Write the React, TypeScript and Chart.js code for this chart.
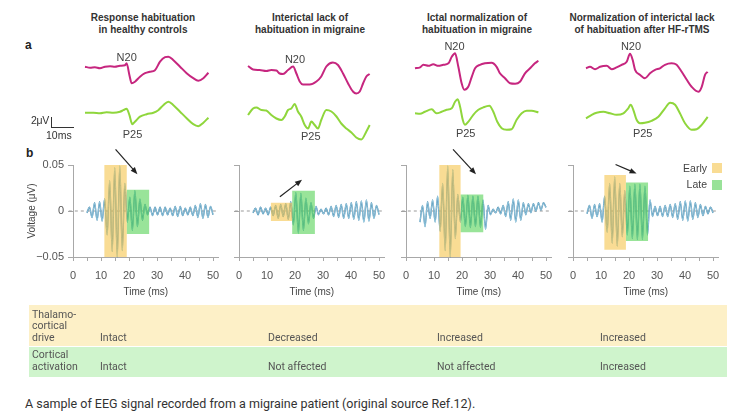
import React, { useEffect, useRef } from 'react';
import { Chart, registerables } from 'chart.js';

Chart.register(...registerables);

const SANS = '"Liberation Sans", Arial, Helvetica, sans-serif';
const ROBOTO = 'Roboto, "Liberation Sans", Arial, sans-serif';
Chart.defaults.font.family = SANS;

// ---------------- text ----------------
const panelTitles = [
  ['Response habituation', 'in healthy controls'],
  ['Interictal lack of', 'habituation in migraine'],
  ['Ictal normalization of', 'habituation in migraine'],
  ['Normalization of interictal lack', 'of habituation after HF-rTMS'],
];
const n20Label = 'N20';
const p25Label = 'P25';
const legendLabels = ['Early', 'Late'];
const thalamoLabel = ['Thalamo-', 'cortical', 'drive'];
const corticalLabel = ['Cortical', 'activation'];
const thalamoValues = ['Intact', 'Decreased', 'Increased', 'Increased'];
const corticalValues = ['Intact', 'Not affected', 'Not affected', 'Increased'];
const caption = 'A sample of EEG signal recorded from a migraine patient (original source Ref.12).';

// ---------------- panel a: evoked potentials (ms, μV) ----------------
const n20Time1 = [0, 2.3, 4.5, 6.8, 9.1, 11.4, 13.6, 15.9, 18.2, 18.9, 20.2, 21.2, 22.7, 25.0, 27.3, 29.5, 31.8, 34.1, 36.4, 37.9, 40.2, 43.2, 46.2, 49.2, 51.5, 53.8, 56.1];
const n20Volt1 = [0, -0.2, -0.1, -0.3, 0, 0.1, 0, 0.2, 0.3, 0.7, -1.7, -3.3, -3.0, -2.0, -1.3, -1.0, -0.7, 1.0, 1.9, 2.0, 1.3, 0, -1.3, -2.3, -2.8, -2.3, -1.2];
const p25Time1 = [0, 3.8, 6.8, 9.8, 12.9, 15.9, 17.4, 18.9, 20.2, 21.5, 22.7, 25.0, 28.0, 31.1, 33.3, 35.6, 37.9, 40.2, 43.2, 46.2, 49.2, 51.5, 53.8, 56.1];
const p25Volt1 = [0, 0, -0.1, 0.1, 0, 0.2, 0.5, 0.8, -0.5, -2.3, -1.8, -0.8, -0.3, 0, 0.5, 1.5, 2.2, 1.5, 0.2, -1.1, -2.3, -2.7, -2.0, -1.0];

const n20Time2 = [0, 2.3, 5.3, 8.3, 10.6, 12.9, 14.4, 15.9, 18.2, 20.5, 22.0, 23.5, 25.0, 28.0, 31.1, 33.3, 35.6, 38.6, 40.9, 43.2, 45.5, 47.7, 49.2, 50.8, 52.3, 53.8, 55.3];
const n20Volt2 = [0, -0.7, -0.8, -1.0, -0.8, -0.9, -1.5, -1.6, -0.8, -0.1, -1.5, -3.1, -3.7, -3.7, -3.1, -2.1, -0.1, 0.7, 0.2, -1.5, -3.5, -5.1, -5.5, -5.1, -3.5, -2.1, -1.6];
const p25Time2 = [0, 2.3, 3.8, 6.1, 8.3, 10.6, 12.9, 15.2, 16.7, 18.2, 19.7, 21.2, 22.7, 24.2, 25.8, 27.3, 28.8, 30.3, 31.8, 33.3, 35.6, 37.9, 40.2, 42.4, 44.7, 47.0, 49.2, 51.5, 53.8, 55.3];
const p25Volt2 = [0, 1.3, 1.5, 1.0, 0.9, 0, -0.7, -1.0, -0.3, 1.0, 1.3, 2.2, 0.7, -0.3, -2.0, -2.7, -1.3, -2.0, -2.7, -1.0, 1.0, 0.7, -0.3, -1.7, -2.7, -3.5, -4.5, -4.9, -3.3, -2.0];

const n20Time3 = [0, 2.3, 3.8, 6.1, 8.3, 10.6, 12.9, 15.2, 16.7, 18.2, 19.7, 21.2, 22.4, 24.2, 25.8, 27.3, 29.5, 31.8, 34.8, 37.1, 38.6, 40.9, 43.2, 45.5, 47.7, 50.0, 52.3, 54.5, 56.1];
const n20Volt3 = [0, 0.2, 0.7, 0.5, 0.8, 0.5, 0.7, 1.0, 2.3, 3.0, 0.3, -3.0, -4.3, -3.7, -1.7, 0, 0.7, 1.0, 1.1, 0.3, -1.0, -2.0, -3.0, -3.1, -2.7, -1.0, 0, 1.0, 1.5];
const p25Time3 = [0, 2.3, 4.5, 7.6, 9.8, 12.1, 14.4, 16.7, 18.2, 19.4, 20.5, 21.7, 22.7, 24.2, 26.5, 28.8, 31.1, 33.8, 35.6, 37.4, 39.4, 41.7, 43.9, 46.2, 48.5, 50.8, 53.0, 56.1];
const p25Volt3 = [0, -0.1, 0.3, 0.8, 0, 0.3, 0.7, 1.0, 2.3, 2.8, 1.3, -1.3, -2.3, -1.7, -0.3, 0.7, 1.2, 1.5, 0.3, -1.7, -3.0, -3.3, -3.2, -1.3, 0, 0.5, 0.5, 0.2];

const n20Time4 = [0, 1.8, 4.1, 6.4, 9.4, 11.7, 13.9, 16.2, 18.5, 20.0, 21.2, 22.3, 24.5, 26.8, 29.1, 31.4, 33.6, 35.9, 38.9, 41.2, 43.5, 45.8, 48.0, 51.1, 52.6, 54.1, 55.3];
const n20Volt4 = [0, 0.3, -0.2, 0.3, 0.5, -0.2, 0.2, 0.7, 1.3, 2.9, 1.7, -0.3, -1.3, -2.0, -1.0, -0.3, 0, 0.7, 1.0, 0.7, -0.7, -2.3, -3.7, -4.7, -3.7, -1.3, -0.7];
const p25Time4 = [0, 2.6, 4.8, 7.9, 10.9, 13.9, 17.0, 19.2, 20.3, 21.5, 23.0, 24.5, 26.8, 29.8, 32.9, 35.9, 38.2, 40.5, 42.7, 45.0, 48.0, 50.3, 52.6, 55.3];
const p25Volt4 = [0, 0.7, 1.1, 1.3, 1.0, 0.7, 1.0, 2.0, 2.7, 1.7, -0.3, -1.0, -0.9, -0.5, 0.3, 2.0, 3.1, 2.7, 1.0, -1.0, -2.3, -2.2, -1.3, 0.3];

const n20Times = [n20Time1, n20Time2, n20Time3, n20Time4];
const n20Volts = [n20Volt1, n20Volt2, n20Volt3, n20Volt4];
const p25Times = [p25Time1, p25Time2, p25Time3, p25Time4];
const p25Volts = [p25Volt1, p25Volt2, p25Volt3, p25Volt4];

// ---------------- panel b: high-frequency oscillations (ms, μV) ----------------
const timeB = [
  5.0, 5.9, 6.8, 7.7, 8.6, 9.5, 10.4, 11.3, 12.2, 13.1,
  14.0, 14.9, 15.8, 16.7, 17.6, 18.5, 19.4, 20.3, 21.2, 22.1,
  23.0, 23.9, 24.8, 25.7, 26.6, 27.5, 28.4, 29.3, 30.2, 31.1,
  32.0, 32.9, 33.8, 34.7, 35.6, 36.5, 37.4, 38.3, 39.2, 40.1,
  41.0, 41.9, 42.8, 43.7, 44.6, 45.5, 46.4, 47.3, 48.2, 49.1,
  50.0,
];
const voltB1 = [
  -0.002, 0.004, -0.007, 0.009, -0.010, 0.010, -0.011, 0.013, -0.026, 0.033,
  -0.044, 0.047, -0.050, 0.049, -0.043, 0.030, -0.012, 0.015, -0.021, 0.022,
  -0.017, 0.013, -0.010, 0.007, -0.004, 0.004, -0.005, 0.004, -0.004, 0.004,
  -0.005, 0.004, -0.004, 0.003, -0.005, 0.005, -0.006, 0.005, -0.005, 0.003,
  -0.004, 0.004, -0.005, 0.006, -0.007, 0.008, -0.008, 0.007, -0.007, 0.005,
  -0.004,
];
const voltB2 = [
  -0.002, 0.003, -0.004, 0.004, -0.003, 0.003, -0.004, 0.004, -0.005, 0.006,
  -0.008, 0.007, -0.006, 0.008, -0.009, 0.010, -0.015, 0.020, -0.024, 0.019,
  -0.021, 0.014, -0.014, 0.009, -0.008, 0.005, -0.004, 0.002, -0.003, 0.003,
  -0.004, 0.005, -0.006, 0.006, -0.007, 0.007, -0.008, 0.008, -0.008, 0.009,
  -0.009, 0.010, -0.010, 0.011, -0.012, 0.012, -0.011, 0.009, -0.008, 0.006,
  -0.004,
];
const voltB3 = [
  -0.012, 0.006, -0.017, 0.010, -0.008, 0.012, -0.012, 0.016, -0.022, 0.030,
  -0.043, 0.049, -0.050, 0.045, -0.030, 0.018, -0.012, 0.015, -0.017, 0.017,
  -0.018, 0.016, -0.017, 0.016, -0.018, 0.012, -0.020, 0.006, -0.004, 0.002,
  -0.002, 0.004, -0.003, 0.006, -0.006, 0.010, -0.010, 0.013, -0.012, 0.012,
  -0.010, 0.009, -0.004, 0.008, -0.002, 0.008, 0.000, 0.009, 0.001, 0.009,
  0.004,
];
const voltB4 = [
  -0.003, 0.006, -0.008, 0.007, -0.006, 0.008, -0.012, 0.016, -0.023, 0.030,
  -0.035, 0.037, -0.038, 0.030, -0.028, 0.022, -0.026, 0.027, -0.030, 0.029,
  -0.031, 0.029, -0.031, 0.027, -0.026, 0.012, -0.006, 0.005, -0.005, 0.005,
  -0.006, 0.006, -0.006, 0.007, -0.007, 0.008, -0.009, 0.010, -0.010, 0.011,
  -0.011, 0.011, -0.009, 0.009, -0.007, 0.007, -0.005, 0.005, -0.003, 0.004,
  -0.002,
];
const voltsB = [voltB1, voltB2, voltB3, voltB4];

const earlyStart = [11.2, 11.4, 11.9, 11.2];
const earlyEnd = [19.2, 19.0, 19.5, 18.9];
const earlyTop = [0.05, 0.009, 0.05, 0.039];
const earlyBottom = [-0.05, -0.011, -0.05, -0.042];
const lateStart = [19.2, 19.0, 19.5, 18.9];
const lateEnd = [27.2, 27.1, 27.6, 26.8];
const lateTop = [0.023, 0.022, 0.018, 0.031];
const lateBottom = [-0.025, -0.025, -0.023, -0.0325];

const arrowFromTime = [15.2, 14.6, 16.8, 15.2];
const arrowFromVolt = [0.067, 0.0154, 0.067, 0.0506];
const arrowToTime = [23.0, 22.5, 25.0, 22.7];
const arrowToVolt = [0.04, 0.034, 0.04, 0.0407];

const xTickValues = [0, 5, 10, 15, 20, 25, 30, 35, 40, 45, 50];
const xTickLabels = ['0', '', '10', '', '20', '', '30', '', '40', '', '50'];
const yTickValues = [-0.05, 0, 0.05];
const yTickLabels = ['\u22120.05', '0', '0.05'];

// ---------------- styles / layout ----------------
const MAGENTA = '#c6267f';
const LIME = '#8fd63c';
const EARLY_FILL = 'rgba(244,192,60,0.55)';
const LATE_FILL = 'rgba(70,205,70,0.55)';
const EARLY_SWATCH = '#f9dc94';
const LATE_SWATCH = '#99e299';
const AXIS_GRAY = '#a8a8a8';

const TITLE_CX = [143, 310, 477, 642];
const N20_POS = [[126.7, 57.5], [295, 59.2], [454.5, 46], [631, 46]];
const P25_POS = [[132.5, 134], [310.8, 136.5], [465.7, 133.8], [642.7, 133.8]];

const A_START_X = [85, 248.3, 415, 586];
const A_BASE_N = [66.7, 66, 68.3, 68.3];
const A_BASE_P = [112.7, 115, 113.3, 118.3];
const A_PX_MS = 2.2;
const A_PX_UV = 5;
const A_TOP = 44;
const A_H = 100;
const A_W = 132;
const A_PAD_L = 4;

const B_X0 = [72.5, 239, 406, 573.3];
const B_PX_MS = 2.8;
const B_XMAX = 52;
const B_TOP = 145;
const B_H = 157;
const B_W = 208;
const B_YW = 50;
const B_PADTOP = 20;
const B_XH = 45;

const TABLE_VALUE_X = [100, 268, 437, 600];

// ---------------- plugins ----------------
const arrowPlugin = {
  id: 'arrow',
  afterDatasetsDraw(chart: any, _args: any, opts: any) {
    if (!opts || !opts.from) return;
    const { ctx, scales } = chart;
    const x1 = scales.x.getPixelForValue(opts.from[0]);
    const y1 = scales.y.getPixelForValue(opts.from[1]);
    const x2 = scales.x.getPixelForValue(opts.to[0]);
    const y2 = scales.y.getPixelForValue(opts.to[1]);
    const ang = Math.atan2(y2 - y1, x2 - x1);
    const head = 7;
    const half = 2.8;
    const bx = x2 - head * Math.cos(ang);
    const by = y2 - head * Math.sin(ang);
    ctx.save();
    ctx.strokeStyle = '#222';
    ctx.fillStyle = '#222';
    ctx.lineWidth = 1.2;
    ctx.beginPath();
    ctx.moveTo(x1, y1);
    ctx.lineTo(bx + 1 * Math.cos(ang), by + 1 * Math.sin(ang));
    ctx.stroke();
    ctx.beginPath();
    ctx.moveTo(x2, y2);
    ctx.lineTo(bx + half * Math.sin(ang), by - half * Math.cos(ang));
    ctx.lineTo(bx - half * Math.sin(ang), by + half * Math.cos(ang));
    ctx.closePath();
    ctx.fill();
    ctx.restore();
  },
};

// ---------------- components ----------------
function PanelA({ c }: { c: number }) {
  const ref = useRef<HTMLCanvasElement>(null);
  useEffect(() => {
    const xMin = -A_PAD_L / A_PX_MS;
    const xMax = xMin + A_W / A_PX_MS;
    const nMax = (A_BASE_N[c] - A_TOP) / A_PX_UV;
    const nMin = nMax - A_H / A_PX_UV;
    const pMax = (A_BASE_P[c] - A_TOP) / A_PX_UV;
    const pMin = pMax - A_H / A_PX_UV;
    const nData = n20Times[c].map((t, k) => ({ x: t, y: n20Volts[c][k] }));
    const pData = p25Times[c].map((t, k) => ({ x: t, y: p25Volts[c][k] }));
    const chart = new Chart(ref.current as HTMLCanvasElement, {
      type: 'line',
      data: {
        datasets: [
          { data: nData, yAxisID: 'yN', borderColor: MAGENTA, borderWidth: 2, pointRadius: 0, fill: false, cubicInterpolationMode: 'monotone', clip: false },
          { data: pData, yAxisID: 'yP', borderColor: LIME, borderWidth: 2, pointRadius: 0, fill: false, cubicInterpolationMode: 'monotone', clip: false },
        ],
      } as any,
      options: {
        animation: false,
        responsive: false,
        events: [],
        layout: { padding: 0 },
        plugins: { legend: { display: false }, tooltip: { enabled: false } },
        scales: {
          x: { type: 'linear', display: false, min: xMin, max: xMax },
          yN: { type: 'linear', display: false, min: nMin, max: nMax },
          yP: { type: 'linear', display: false, min: pMin, max: pMax },
        },
      } as any,
    });
    return () => chart.destroy();
  }, [c]);
  return (
    <canvas
      ref={ref}
      width={A_W}
      height={A_H}
      style={{ position: 'absolute', left: A_START_X[c] - A_PAD_L, top: A_TOP, width: A_W, height: A_H }}
    />
  );
}

function PanelB({ i }: { i: number }) {
  const ref = useRef<HTMLCanvasElement>(null);
  useEffect(() => {
    const volts = voltsB[i];
    const traceDark = timeB.map((t, k) => ({ x: t, y: volts[k] }));
    const traceLight = timeB.map((t, k) => ({ x: t, y: volts[k] }));
    const rect = (s: number, e: number, b: number, t: number) => [
      { x: s, y: b }, { x: s, y: t }, { x: e, y: t }, { x: e, y: b }, { x: s, y: b },
    ];
    const showY = i === 0;
    const chart = new Chart(ref.current as HTMLCanvasElement, {
      type: 'line',
      data: {
        datasets: [
          { data: rect(earlyStart[i], earlyEnd[i], earlyBottom[i], earlyTop[i]), fill: 'shape', backgroundColor: EARLY_FILL, borderColor: 'rgba(0,0,0,0)', borderWidth: 0, pointRadius: 0, tension: 0, order: 0 },
          { data: rect(lateStart[i], lateEnd[i], lateBottom[i], lateTop[i]), fill: 'shape', backgroundColor: LATE_FILL, borderColor: 'rgba(0,0,0,0)', borderWidth: 0, pointRadius: 0, tension: 0, order: 1 },
          { data: traceLight, borderColor: '#b8e2f2', borderWidth: 0.7, pointRadius: 0, fill: false, cubicInterpolationMode: 'monotone', clip: false, order: 2 },
          { data: traceDark, borderColor: '#3b80a8', borderWidth: 1.4, pointRadius: 0, fill: false, cubicInterpolationMode: 'monotone', clip: false, order: 3 },
          { data: [{ x: -1.5, y: 0 }, { x: B_XMAX, y: 0 }], borderColor: '#9a9a9a', borderWidth: 1, borderDash: [3, 3], pointRadius: 0, fill: false, clip: false, order: 4 },
        ],
      } as any,
      options: {
        animation: false,
        responsive: false,
        events: [],
        layout: { padding: { top: B_PADTOP, left: 0, bottom: 0, right: B_W - B_YW - B_XMAX * B_PX_MS } },
        plugins: {
          legend: { display: false },
          tooltip: { enabled: false },
          arrow: { from: [arrowFromTime[i], arrowFromVolt[i]], to: [arrowToTime[i], arrowToVolt[i]] },
        },
        scales: {
          x: {
            type: 'linear',
            min: 0,
            max: B_XMAX,
            afterFit: (s: any) => { s.height = B_XH; },
            afterBuildTicks: (s: any) => { s.ticks = xTickValues.map((v) => ({ value: v })); },
            ticks: {
              autoSkip: false,
              maxRotation: 0,
              padding: 8,
              color: '#555',
              font: { size: 11 },
              callback: (_v: any, idx: number) => xTickLabels[idx],
            },
            grid: { drawOnChartArea: false, drawTicks: true, tickLength: 4, color: AXIS_GRAY },
            border: { display: true, color: AXIS_GRAY, width: 1 },
            title: { display: true, text: 'Time (ms)', color: '#444', font: { size: 10 }, padding: { top: 0, bottom: 4 } },
          },
          y: {
            type: 'linear',
            min: -0.05,
            max: 0.05,
            afterFit: (s: any) => { s.width = B_YW; },
            afterBuildTicks: (s: any) => { s.ticks = yTickValues.map((v) => ({ value: v })); },
            ticks: {
              autoSkip: false,
              padding: 4,
              color: '#555',
              font: { size: 11 },
              callback: (_v: any, idx: number) => (showY ? yTickLabels[idx] : ''),
            },
            grid: { drawOnChartArea: false, drawTicks: true, tickLength: 5, color: AXIS_GRAY },
            border: { display: true, color: AXIS_GRAY, width: 1 },
            title: { display: showY, text: 'Voltage (\u03bcV)', color: '#444', font: { size: 10 }, padding: { top: 3, bottom: 0 } },
          },
        },
      } as any,
      plugins: [arrowPlugin as any],
    });
    return () => chart.destroy();
  }, [i]);
  return (
    <canvas
      ref={ref}
      width={B_W}
      height={B_H}
      style={{ position: 'absolute', left: B_X0[i] - B_YW, top: B_TOP, width: B_W, height: B_H }}
    />
  );
}

const abs = (extra: React.CSSProperties): React.CSSProperties => ({ position: 'absolute', whiteSpace: 'nowrap', ...extra });

export default function App() {
  const cols = [0, 1, 2, 3];
  return (
    <div style={{ position: 'absolute', left: 0, top: 0, width: 733, height: 416, background: '#fff', overflow: 'hidden', fontFamily: SANS }}>
      {cols.map((c) => (
        <div key={'t' + c} style={abs({ left: TITLE_CX[c] - 100, top: 11.5, width: 200, textAlign: 'center', fontSize: 10, lineHeight: '12px', fontWeight: 'bold', color: '#333' })}>
          {panelTitles[c][0]}
          <br />
          {panelTitles[c][1]}
        </div>
      ))}
      <div style={abs({ left: 25, top: 37.5, fontSize: 12, lineHeight: '14px', fontWeight: 'bold', color: '#222' })}>a</div>
      <div style={abs({ left: 26, top: 146, fontSize: 12, lineHeight: '14px', fontWeight: 'bold', color: '#222' })}>b</div>

      {cols.map((c) => <PanelA key={'a' + c} c={c} />)}
      {cols.map((c) => (
        <div key={'n' + c} style={abs({ left: N20_POS[c][0] - 20, top: N20_POS[c][1] - 6.5, width: 40, textAlign: 'center', fontSize: 11, lineHeight: '13px', color: '#444' })}>{n20Label}</div>
      ))}
      {cols.map((c) => (
        <div key={'p' + c} style={abs({ left: P25_POS[c][0] - 20, top: P25_POS[c][1] - 6.5, width: 40, textAlign: 'center', fontSize: 11, lineHeight: '13px', color: '#444' })}>{p25Label}</div>
      ))}

      {/* scale bar */}
      <div style={abs({ left: 50.5, top: 116.5, width: 22, height: 10, borderLeft: '1.3px solid #333', borderBottom: '1.3px solid #333' })} />
      <div style={abs({ left: 10, top: 114, width: 39, textAlign: 'right', fontSize: 10.5, lineHeight: '13px', color: '#333', letterSpacing: '-0.3px' })}>2{'\u03bc'}V</div>
      <div style={abs({ left: 46, top: 128.5, fontSize: 10.5, lineHeight: '13px', color: '#333' })}>10ms</div>

      {cols.map((c) => <PanelB key={'b' + c} i={c} />)}

      {/* legend */}
      <div style={abs({ left: 660, top: 161.5, width: 47, textAlign: 'right', fontSize: 10.5, lineHeight: '13px', color: '#444' })}>{legendLabels[0]}</div>
      <div style={abs({ left: 711.5, top: 163, width: 10, height: 10, background: EARLY_SWATCH })} />
      <div style={abs({ left: 660, top: 178, width: 47, textAlign: 'right', fontSize: 10.5, lineHeight: '13px', color: '#444' })}>{legendLabels[1]}</div>
      <div style={abs({ left: 711.5, top: 180, width: 10, height: 10, background: LATE_SWATCH })} />

      {/* table */}
      <div style={abs({ left: 29, top: 305, width: 698, height: 41, background: '#fdf0c7' })} />
      <div style={abs({ left: 29, top: 347, width: 698, height: 30, background: '#cff4cc' })} />
      <div style={abs({ left: 32, top: 308.5, fontFamily: ROBOTO, fontSize: 10.5, lineHeight: '11.8px', color: '#555' })}>
        {thalamoLabel[0]}<br />{thalamoLabel[1]}<br />{thalamoLabel[2]}
      </div>
      {cols.map((c) => (
        <div key={'tv' + c} style={abs({ left: TABLE_VALUE_X[c], top: 332, fontFamily: ROBOTO, fontSize: 10.5, lineHeight: '11.8px', color: '#555' })}>{thalamoValues[c]}</div>
      ))}
      <div style={abs({ left: 32, top: 349, fontFamily: ROBOTO, fontSize: 10.5, lineHeight: '11.8px', color: '#555' })}>
        {corticalLabel[0]}<br />{corticalLabel[1]}
      </div>
      {cols.map((c) => (
        <div key={'cv' + c} style={abs({ left: TABLE_VALUE_X[c], top: 361, fontFamily: ROBOTO, fontSize: 10.5, lineHeight: '11.8px', color: '#555' })}>{corticalValues[c]}</div>
      ))}

      <div style={abs({ left: 25, top: 396, fontFamily: ROBOTO, fontSize: 12.5, lineHeight: '15px', color: '#333' })}>{caption}</div>
    </div>
  );
}
